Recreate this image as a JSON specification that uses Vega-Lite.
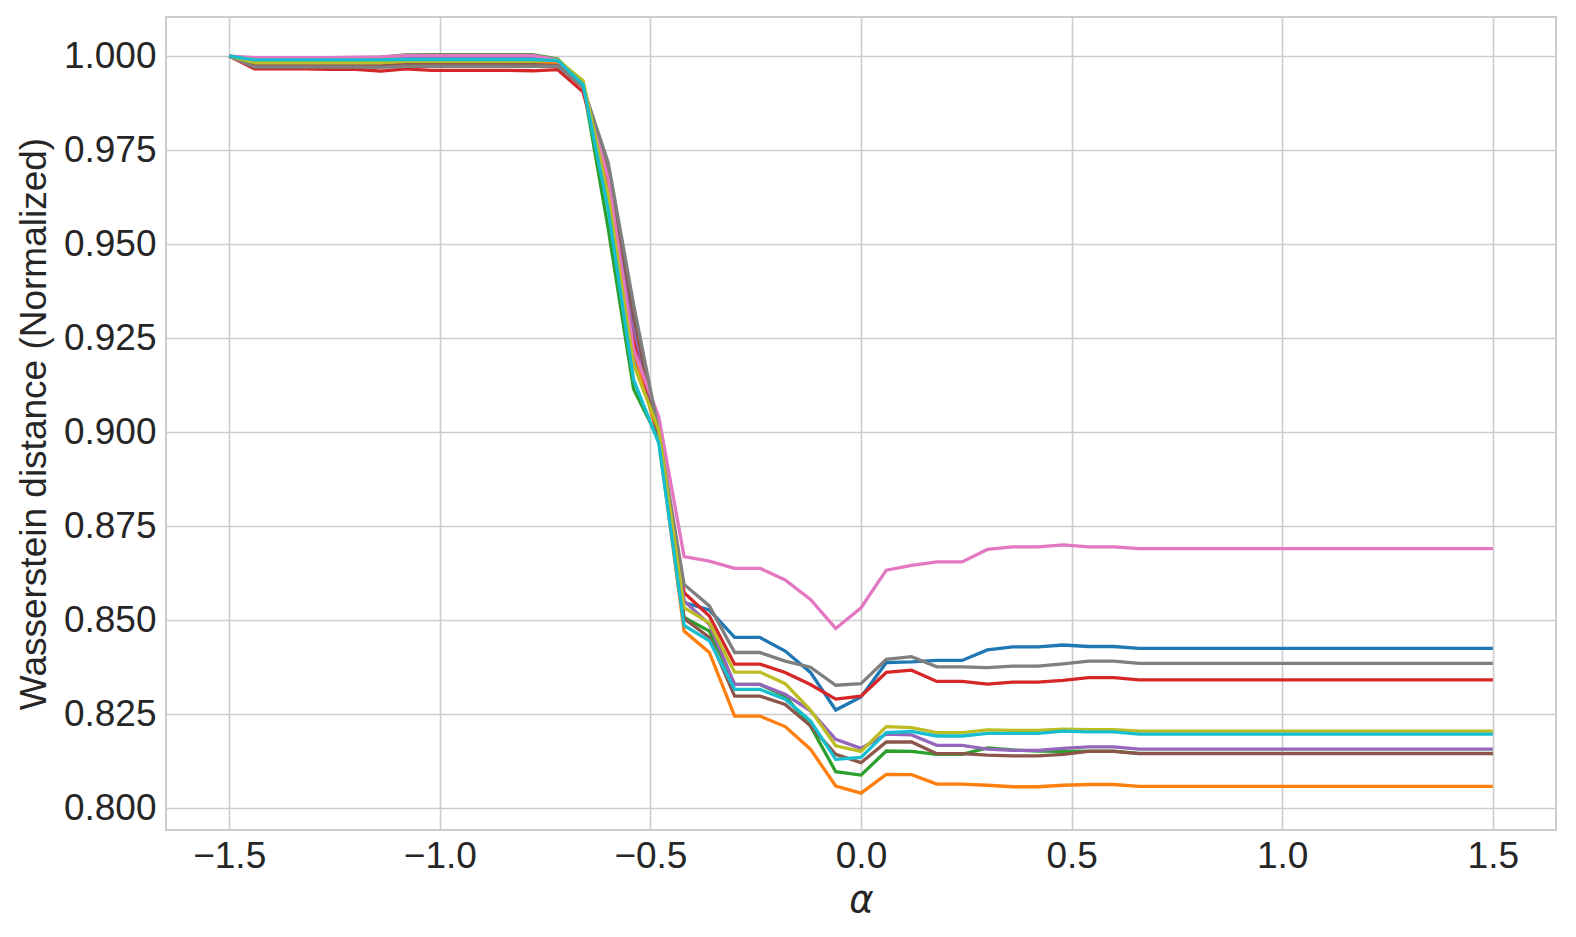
{
  "$schema": "https://vega.github.io/schema/vega-lite/v6.json",
  "width": 1390,
  "height": 813,
  "autosize": "none",
  "padding": {"left": 166, "top": 17, "right": 20, "bottom": 107},
  "background": "white",
  "config": {
    "view": {"stroke": "#cccccc", "strokeWidth": 2},
    "axis": {
      "domain": false,
      "ticks": false,
      "grid": true,
      "gridColor": "#cccccc",
      "gridWidth": 1.6,
      "labelFont": "Liberation Sans",
      "labelFontSize": 37,
      "labelColor": "#262626",
      "titleFont": "Liberation Sans",
      "titleFontSize": 37,
      "titleFontWeight": "normal",
      "titleColor": "#262626"
    }
  },
  "data": {
    "values": [
      {"a": -1.5, "b": 1.0, "o": 1.0, "g": 1.0, "r": 1.0, "p": 1.0, "br": 1.0, "pk": 1.0, "gy": 1.0, "ol": 1.0, "cy": 1.0},
      {"a": -1.44, "b": 0.9989, "o": 0.9982, "g": 0.9993, "r": 0.9966, "p": 0.9987, "br": 0.9974, "pk": 0.9996, "gy": 0.9971, "ol": 0.9983, "cy": 0.999},
      {"a": -1.38, "b": 0.9989, "o": 0.9982, "g": 0.9993, "r": 0.9966, "p": 0.9987, "br": 0.9974, "pk": 0.9996, "gy": 0.9971, "ol": 0.9983, "cy": 0.999},
      {"a": -1.32, "b": 0.9989, "o": 0.9982, "g": 0.9993, "r": 0.9966, "p": 0.9987, "br": 0.9974, "pk": 0.9996, "gy": 0.9971, "ol": 0.9983, "cy": 0.999},
      {"a": -1.26, "b": 0.9989, "o": 0.9982, "g": 0.9994, "r": 0.9965, "p": 0.9987, "br": 0.9974, "pk": 0.9996, "gy": 0.9971, "ol": 0.9983, "cy": 0.999},
      {"a": -1.2, "b": 0.9989, "o": 0.9982, "g": 0.9995, "r": 0.9965, "p": 0.9988, "br": 0.9974, "pk": 0.9997, "gy": 0.9971, "ol": 0.9983, "cy": 0.999},
      {"a": -1.14, "b": 0.999, "o": 0.9982, "g": 0.9997, "r": 0.996, "p": 0.9989, "br": 0.9974, "pk": 0.9998, "gy": 0.997, "ol": 0.9983, "cy": 0.999},
      {"a": -1.08, "b": 0.9992, "o": 0.9984, "g": 1.0003, "r": 0.9966, "p": 0.9993, "br": 0.9977, "pk": 1.0002, "gy": 0.9973, "ol": 0.9986, "cy": 0.9991},
      {"a": -1.02, "b": 0.9992, "o": 0.9984, "g": 1.0004, "r": 0.9962, "p": 0.9993, "br": 0.9977, "pk": 1.0002, "gy": 0.9973, "ol": 0.9986, "cy": 0.9991},
      {"a": -0.96, "b": 0.9992, "o": 0.9984, "g": 1.0004, "r": 0.9962, "p": 0.9993, "br": 0.9977, "pk": 1.0002, "gy": 0.9973, "ol": 0.9986, "cy": 0.9991},
      {"a": -0.9, "b": 0.9992, "o": 0.9984, "g": 1.0004, "r": 0.9962, "p": 0.9993, "br": 0.9977, "pk": 1.0002, "gy": 0.9973, "ol": 0.9986, "cy": 0.9991},
      {"a": -0.84, "b": 0.9992, "o": 0.9984, "g": 1.0004, "r": 0.9962, "p": 0.9993, "br": 0.9977, "pk": 1.0002, "gy": 0.9973, "ol": 0.9986, "cy": 0.9991},
      {"a": -0.78, "b": 0.9992, "o": 0.9984, "g": 1.0004, "r": 0.9961, "p": 0.9993, "br": 0.9977, "pk": 1.0002, "gy": 0.9973, "ol": 0.9986, "cy": 0.9991},
      {"a": -0.72, "b": 0.9988, "o": 0.9982, "g": 0.9992, "r": 0.9964, "p": 0.9988, "br": 0.9975, "pk": 0.999, "gy": 0.9973, "ol": 0.999, "cy": 0.9988},
      {"a": -0.66, "b": 0.992, "o": 0.9922, "g": 0.9925, "r": 0.9905, "p": 0.992, "br": 0.9918, "pk": 0.992, "gy": 0.9918, "ol": 0.9935, "cy": 0.9925},
      {"a": -0.6, "b": 0.964, "o": 0.965, "g": 0.954, "r": 0.966, "p": 0.9685, "br": 0.97, "pk": 0.9675, "gy": 0.9716, "ol": 0.963, "cy": 0.959},
      {"a": -0.54, "b": 0.921, "o": 0.922, "g": 0.9115, "r": 0.925, "p": 0.928, "br": 0.931, "pk": 0.922, "gy": 0.934, "ol": 0.918, "cy": 0.914},
      {"a": -0.48, "b": 0.899, "o": 0.898, "g": 0.898, "r": 0.899, "p": 0.899, "br": 0.898, "pk": 0.904, "gy": 0.9, "ol": 0.9005, "cy": 0.897},
      {"a": -0.42, "b": 0.8547, "o": 0.8471, "g": 0.8507, "r": 0.8573, "p": 0.8551, "br": 0.8504, "pk": 0.8669, "gy": 0.8595, "ol": 0.8533, "cy": 0.8486},
      {"a": -0.36, "b": 0.8527, "o": 0.8414, "g": 0.8471, "r": 0.8511, "p": 0.8489, "br": 0.8454, "pk": 0.8657, "gy": 0.8538, "ol": 0.8493, "cy": 0.8445},
      {"a": -0.3, "b": 0.8454, "o": 0.8245, "g": 0.8329, "r": 0.8383, "p": 0.8329, "br": 0.8298, "pk": 0.8638, "gy": 0.8414, "ol": 0.8362, "cy": 0.8316},
      {"a": -0.24, "b": 0.8454, "o": 0.8245, "g": 0.8329, "r": 0.8383, "p": 0.8329, "br": 0.8298, "pk": 0.8638, "gy": 0.8414, "ol": 0.8362, "cy": 0.8316},
      {"a": -0.18, "b": 0.8418, "o": 0.8217, "g": 0.8298, "r": 0.8361, "p": 0.8303, "br": 0.8276, "pk": 0.8607, "gy": 0.8391, "ol": 0.8331, "cy": 0.829},
      {"a": -0.12, "b": 0.8361, "o": 0.8157, "g": 0.8219, "r": 0.8329, "p": 0.8259, "br": 0.8219, "pk": 0.8555, "gy": 0.8375, "ol": 0.8261, "cy": 0.8232},
      {"a": -0.06, "b": 0.8261, "o": 0.8059, "g": 0.8097, "r": 0.829, "p": 0.8183, "br": 0.8143, "pk": 0.8478, "gy": 0.8327, "ol": 0.8166, "cy": 0.813},
      {"a": 0.0, "b": 0.8296, "o": 0.804, "g": 0.8088, "r": 0.8298, "p": 0.8159, "br": 0.8121, "pk": 0.8533, "gy": 0.8331, "ol": 0.8151, "cy": 0.8135},
      {"a": 0.06, "b": 0.8387, "o": 0.809, "g": 0.8152, "r": 0.8361, "p": 0.8197, "br": 0.8176, "pk": 0.8633, "gy": 0.8396, "ol": 0.8217, "cy": 0.8201},
      {"a": 0.12, "b": 0.8389, "o": 0.8089, "g": 0.8151, "r": 0.8367, "p": 0.8195, "br": 0.8176, "pk": 0.8646, "gy": 0.8403, "ol": 0.8214, "cy": 0.8204},
      {"a": 0.18, "b": 0.8393, "o": 0.8064, "g": 0.8143, "r": 0.8337, "p": 0.8167, "br": 0.8145, "pk": 0.8655, "gy": 0.8376, "ol": 0.8201, "cy": 0.8192},
      {"a": 0.24, "b": 0.8393, "o": 0.8064, "g": 0.8143, "r": 0.8337, "p": 0.8167, "br": 0.8145, "pk": 0.8655, "gy": 0.8376, "ol": 0.8201, "cy": 0.8192},
      {"a": 0.3, "b": 0.8421, "o": 0.8061, "g": 0.816, "r": 0.833, "p": 0.8157, "br": 0.8141, "pk": 0.8688, "gy": 0.8374, "ol": 0.8208, "cy": 0.8199},
      {"a": 0.36, "b": 0.8429, "o": 0.8057, "g": 0.8155, "r": 0.8335, "p": 0.8154, "br": 0.8139, "pk": 0.8695, "gy": 0.8378, "ol": 0.8207, "cy": 0.8199},
      {"a": 0.42, "b": 0.8429, "o": 0.8057, "g": 0.8152, "r": 0.8335, "p": 0.8154, "br": 0.8139, "pk": 0.8695, "gy": 0.8378, "ol": 0.8207, "cy": 0.8199},
      {"a": 0.48, "b": 0.8434, "o": 0.8061, "g": 0.8151, "r": 0.834, "p": 0.8159, "br": 0.8143, "pk": 0.87, "gy": 0.8384, "ol": 0.821, "cy": 0.8205},
      {"a": 0.54, "b": 0.843, "o": 0.8063, "g": 0.8152, "r": 0.8347, "p": 0.8163, "br": 0.8151, "pk": 0.8695, "gy": 0.8391, "ol": 0.8209, "cy": 0.8203},
      {"a": 0.6, "b": 0.843, "o": 0.8063, "g": 0.8152, "r": 0.8347, "p": 0.8163, "br": 0.8151, "pk": 0.8695, "gy": 0.8391, "ol": 0.8209, "cy": 0.8203},
      {"a": 0.66, "b": 0.8425, "o": 0.8058, "g": 0.8146, "r": 0.8341, "p": 0.8157, "br": 0.8145, "pk": 0.869, "gy": 0.8385, "ol": 0.8205, "cy": 0.8197},
      {"a": 0.72, "b": 0.8425, "o": 0.8058, "g": 0.8146, "r": 0.8341, "p": 0.8157, "br": 0.8145, "pk": 0.869, "gy": 0.8385, "ol": 0.8205, "cy": 0.8197},
      {"a": 0.78, "b": 0.8425, "o": 0.8058, "g": 0.8146, "r": 0.8341, "p": 0.8157, "br": 0.8145, "pk": 0.869, "gy": 0.8385, "ol": 0.8205, "cy": 0.8197},
      {"a": 0.84, "b": 0.8425, "o": 0.8058, "g": 0.8146, "r": 0.8341, "p": 0.8157, "br": 0.8145, "pk": 0.869, "gy": 0.8385, "ol": 0.8205, "cy": 0.8197},
      {"a": 0.9, "b": 0.8425, "o": 0.8058, "g": 0.8146, "r": 0.8341, "p": 0.8157, "br": 0.8145, "pk": 0.869, "gy": 0.8385, "ol": 0.8205, "cy": 0.8197},
      {"a": 0.96, "b": 0.8425, "o": 0.8058, "g": 0.8146, "r": 0.8341, "p": 0.8157, "br": 0.8145, "pk": 0.869, "gy": 0.8385, "ol": 0.8205, "cy": 0.8197},
      {"a": 1.02, "b": 0.8425, "o": 0.8058, "g": 0.8146, "r": 0.8341, "p": 0.8157, "br": 0.8145, "pk": 0.869, "gy": 0.8385, "ol": 0.8205, "cy": 0.8197},
      {"a": 1.08, "b": 0.8425, "o": 0.8058, "g": 0.8146, "r": 0.8341, "p": 0.8157, "br": 0.8145, "pk": 0.869, "gy": 0.8385, "ol": 0.8205, "cy": 0.8197},
      {"a": 1.14, "b": 0.8425, "o": 0.8058, "g": 0.8146, "r": 0.8341, "p": 0.8157, "br": 0.8145, "pk": 0.869, "gy": 0.8385, "ol": 0.8205, "cy": 0.8197},
      {"a": 1.2, "b": 0.8425, "o": 0.8058, "g": 0.8146, "r": 0.8341, "p": 0.8157, "br": 0.8145, "pk": 0.869, "gy": 0.8385, "ol": 0.8205, "cy": 0.8197},
      {"a": 1.26, "b": 0.8425, "o": 0.8058, "g": 0.8146, "r": 0.8341, "p": 0.8157, "br": 0.8145, "pk": 0.869, "gy": 0.8385, "ol": 0.8205, "cy": 0.8197},
      {"a": 1.32, "b": 0.8425, "o": 0.8058, "g": 0.8146, "r": 0.8341, "p": 0.8157, "br": 0.8145, "pk": 0.869, "gy": 0.8385, "ol": 0.8205, "cy": 0.8197},
      {"a": 1.38, "b": 0.8425, "o": 0.8058, "g": 0.8146, "r": 0.8341, "p": 0.8157, "br": 0.8145, "pk": 0.869, "gy": 0.8385, "ol": 0.8205, "cy": 0.8197},
      {"a": 1.44, "b": 0.8425, "o": 0.8058, "g": 0.8146, "r": 0.8341, "p": 0.8157, "br": 0.8145, "pk": 0.869, "gy": 0.8385, "ol": 0.8205, "cy": 0.8197},
      {"a": 1.5, "b": 0.8425, "o": 0.8058, "g": 0.8146, "r": 0.8341, "p": 0.8157, "br": 0.8145, "pk": 0.869, "gy": 0.8385, "ol": 0.8205, "cy": 0.8197}
    ]
  },
  "transform": [
    {"fold": ["b", "o", "g", "r", "p", "br", "pk", "gy", "ol", "cy"], "as": ["series", "value"]}
  ],
  "mark": {"type": "line", "strokeWidth": 3.3, "clip": true},
  "encoding": {
    "x": {
      "field": "a",
      "type": "quantitative",
      "scale": {"domain": [-1.65, 1.65], "nice": false, "zero": false},
      "axis": {
        "values": [-1.5, -1, -0.5, 0, 0.5, 1, 1.5],
        "format": ".1f",
        "labelPadding": 8,
        "title": "α",
        "titleFont": "DejaVu Sans",
        "titleFontStyle": "italic",
        "titleFontSize": 37,
        "titlePadding": 8
      }
    },
    "y": {
      "field": "value",
      "type": "quantitative",
      "scale": {"domain": [0.7942, 1.0104], "nice": false, "zero": false},
      "axis": {
        "values": [0.8, 0.825, 0.85, 0.875, 0.9, 0.925, 0.95, 0.975, 1.0],
        "format": ".3f",
        "labelPadding": 10,
        "title": "Wasserstein distance (Normalized)",
        "titlePadding": 10
      }
    },
    "color": {
      "field": "series",
      "type": "nominal",
      "legend": null,
      "scale": {
        "domain": ["b", "o", "g", "r", "p", "br", "pk", "gy", "ol", "cy"],
        "range": ["#1f77b4", "#ff7f0e", "#2ca02c", "#d62728", "#9467bd", "#8c564b", "#e377c2", "#7f7f7f", "#bcbd22", "#17becf"]
      }
    }
  }
}
